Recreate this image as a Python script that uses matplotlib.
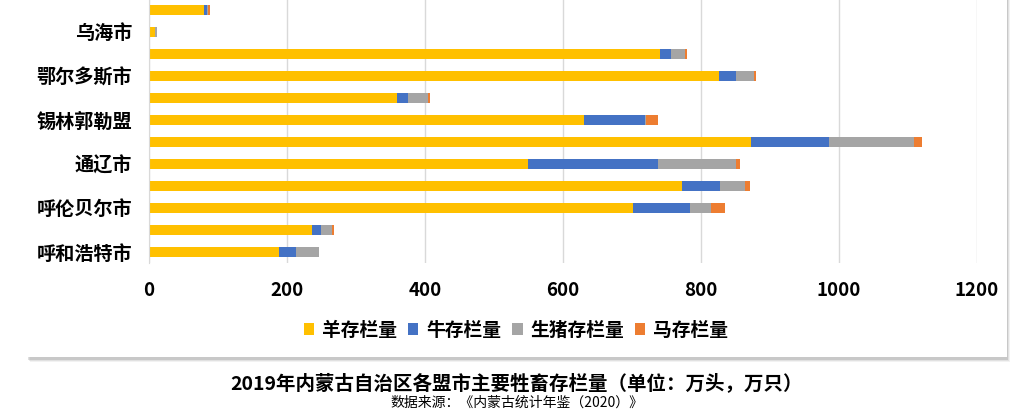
import numpy as np
import matplotlib as mpl
mpl.use('Agg')
import matplotlib.pyplot as plt
from matplotlib.patches import Rectangle, Patch

plt.rcParams['font.family'] = ['Noto Sans CJK SC', 'DejaVu Sans']

# bottom to top
cities = ['呼和浩特市', '包头市', '呼伦贝尔市', '兴安盟', '通辽市', '赤峰市',
          '锡林郭勒盟', '乌兰察布市', '鄂尔多斯市', '巴彦淖尔市', '乌海市', '阿拉善盟']
sheep  = [188, 236, 702, 772, 549, 873, 631, 359, 826, 740, 8, 80]
cattle = [25, 13, 82, 56, 188, 113, 88, 17, 25, 16, 1, 4]
pig    = [33, 16, 31, 36, 114, 123, 2, 28, 26, 21, 2, 2]
horse  = [1, 3, 20, 7, 5, 11, 16, 3, 2, 3, 1, 2]

series = ['羊存栏量', '牛存栏量', '生猪存栏量', '马存栏量']
colors = ['#FFC000', '#4472C4', '#A5A5A5', '#ED7D31']
xticks = [0, 200, 400, 600, 800, 1000, 1200]

W, H = 1034, 413
fig = plt.figure(figsize=(W / 100, H / 100), dpi=100)
fig.patch.set_facecolor('white')

# card with soft shadow
for i, a in enumerate([0.10, 0.15, 0.25]):
    off = 4 - i
    fig.add_artist(Rectangle(((27 + off - 1) / W, 1 - (358 + off) / H),
                             980 / W, (358 + 10) / H,
                             transform=fig.transFigure, facecolor='#808080',
                             edgecolor='none', alpha=a, zorder=-3))
fig.add_artist(Rectangle((27 / W, 1 - 357 / H), 980 / W, 360 / H,
                         transform=fig.transFigure, facecolor='white',
                         edgecolor='none', zorder=-2))

ax = fig.add_axes([149 / W, 1 - 263 / H, (977 - 149) / W, 263 / H])
ax.set_zorder(1)
ax.patch.set_visible(False)

y = np.arange(len(cities))
data = [sheep, cattle, pig, horse]
left = np.zeros(len(cities))
for vals, c, name in zip(data, colors, series):
    ax.barh(y, vals, left=left, height=0.43, color=c, label=name, zorder=3)
    left += np.array(vals)

ax.set_xlim(0, 1200)
ax.set_ylim(-0.5, 11.45)
ax.set_xticks(xticks)
ax.set_xticklabels([str(t) for t in xticks], fontsize=13.5, fontweight='bold')
ax.set_yticks(y[::2])
ax.set_yticklabels(cities[::2], fontsize=13.8, fontweight='bold')
ax.tick_params(axis='x', length=0, pad=13)
ax.tick_params(axis='y', length=0, pad=12)
ax.grid(axis='x', color='#D9D9D9', linewidth=1, zorder=0)
for s in ['top', 'right', 'bottom']:
    ax.spines[s].set_visible(False)
ax.spines['left'].set_color('#D9D9D9')
ax.spines['left'].set_zorder(4)

handles = [Patch(facecolor=c, edgecolor='none') for c in colors]
fig.legend(handles, series, loc='center', bbox_to_anchor=(0.499, 1 - 330 / H),
           ncol=4, frameon=False, handlelength=0.55, handleheight=0.55,
           handletextpad=0.4, columnspacing=0.6,
           prop={'size': 13.5, 'weight': 'bold'})

fig.text(0.5, 1 - 383 / H, '2019年内蒙古自治区各盟市主要牲畜存栏量（单位：万头，万只）',
         ha='center', va='center', fontsize=14, fontweight='bold')
fig.text(0.5, 1 - 403 / H, '数据来源：《内蒙古统计年鉴（2020）》',
         ha='center', va='center', fontsize=10)

plt.savefig('out.png', dpi=100)
